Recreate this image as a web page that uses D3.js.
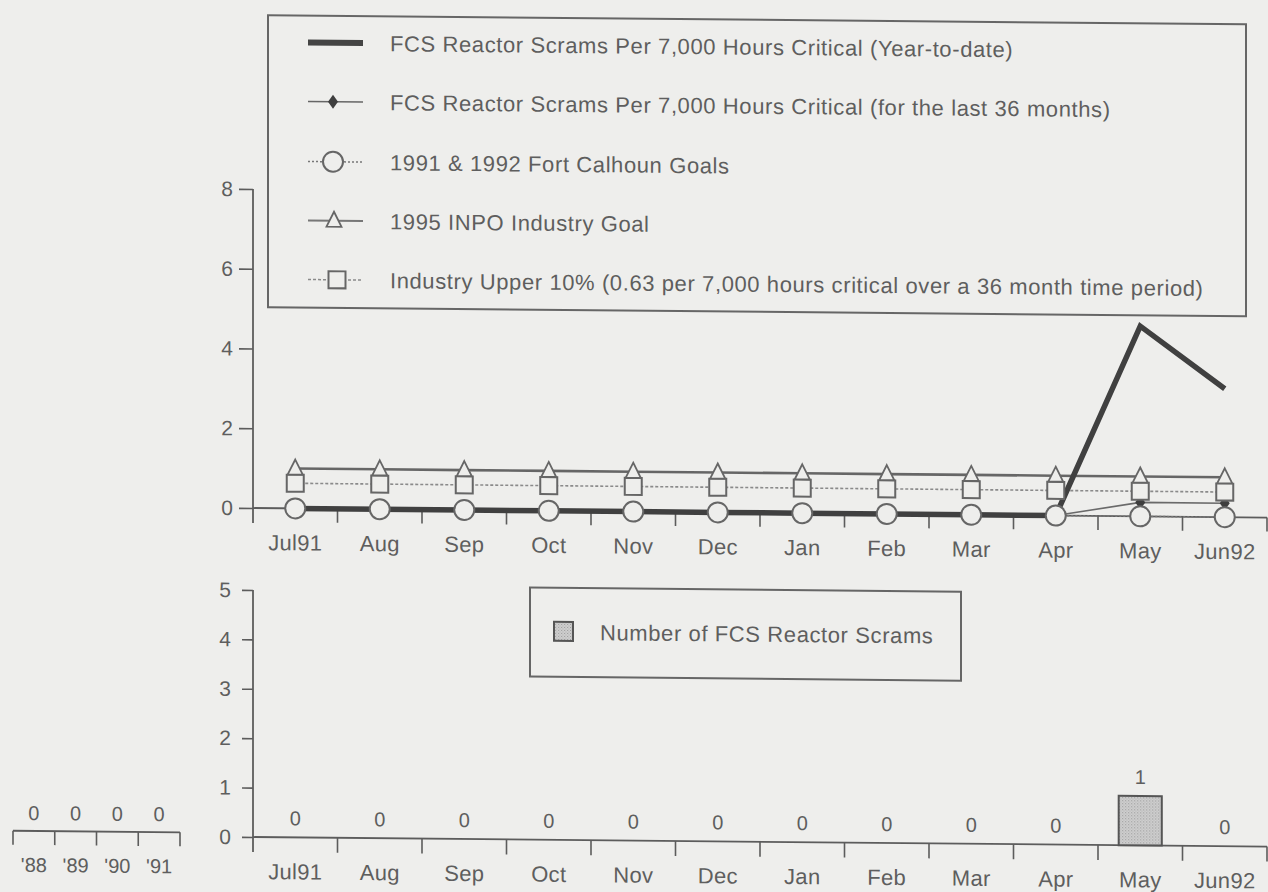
<!DOCTYPE html>
<html>
<head>
<meta charset="utf-8">
<script src="https://cdn.jsdelivr.net/npm/d3@7"></script>
<style>
  html, body { margin: 0; padding: 0; background: #eeeeec; }
  svg { display: block; }
  text { font-family: "Liberation Sans", Arial, Helvetica, sans-serif; fill: #5e5e5e; }
</style>
</head>
<body>
<svg id="chart" width="1268" height="892"></svg>
<script>
// ---------------- data ----------------
const months = ["Jul91", "Aug", "Sep", "Oct", "Nov", "Dec", "Jan", "Feb", "Mar", "Apr", "May", "Jun92"];
const ytdRate   = [0, 0, 0, 0, 0, 0, 0, 0, 0, 0, 4.77, 3.22];       // per 7,000 hrs critical, year-to-date
const rate36    = [0, 0, 0, 0, 0, 0, 0, 0, 0, 0, 0.35, 0.35];       // last 36 months
const fcsGoals  = [0, 0, 0, 0, 0, 0, 0, 0, 0, 0, 0, 0];             // 1991 & 1992 Fort Calhoun goals
const inpoGoal  = [1, 1, 1, 1, 1, 1, 1, 1, 1, 1, 1, 1];             // 1995 INPO industry goal
const upper10   = [0.63, 0.63, 0.63, 0.63, 0.63, 0.63, 0.63, 0.63, 0.63, 0.63, 0.63, 0.63];
const scrams    = [0, 0, 0, 0, 0, 0, 0, 0, 0, 0, 1, 0];             // number of FCS reactor scrams
const years     = ["'88", "'89", "'90", "'91"];
const yearScrams = [0, 0, 0, 0];
const topTicks = [0, 2, 4, 6, 8];
const bottomTicks = [0, 1, 2, 3, 4, 5];
const legendLabels = [
  "FCS Reactor Scrams Per 7,000 Hours Critical (Year-to-date)",
  "FCS Reactor Scrams Per 7,000 Hours Critical (for the last 36 months)",
  "1991 & 1992 Fort Calhoun Goals",
  "1995 INPO Industry Goal",
  "Industry Upper 10% (0.63 per 7,000 hours critical over a 36 month time period)"
];
const barLegendLabel = "Number of FCS Reactor Scrams";

// ---------------- styles ----------------
const BG = "#eeeeec";
const INK = "#606060";
const AX = "#5c5c5c";

const svg = d3.select("#chart");
svg.append("rect").attr("width", 1268).attr("height", 892).attr("fill", BG);

// the scanned page is slightly skewed
const root = svg.append("g")
  .attr("transform", "translate(253,0) skewY(0.54) translate(-253,0)");

// pattern for bar fill
const defs = svg.append("defs");
const pat = defs.append("pattern").attr("id", "dots").attr("width", 3).attr("height", 3)
  .attr("patternUnits", "userSpaceOnUse");
pat.append("rect").attr("width", 3).attr("height", 3).attr("fill", "#cfcfcf");
pat.append("rect").attr("width", 1).attr("height", 1).attr("fill", "#9a9a9a");
pat.append("rect").attr("x", 1.5).attr("y", 1.5).attr("width", 1).attr("height", 1).attr("fill", "#a8a8a8");

// ---------------- scales ----------------
const x = d3.scaleBand().domain(months).range([253, 1267]).padding(0);
const cx = m => x(m) + x.bandwidth() / 2;
const yTop = d3.scaleLinear().domain([0, 8]).range([508, 189]);
const yBot = d3.scaleLinear().domain([0, 5]).range([837, 590]);
const xYears = d3.scaleBand().domain(years).range([13, 180]).padding(0);

// ================= TOP CHART =================
const gTop = root.append("g");

// y axis
const yAxisTop = d3.axisLeft(yTop).tickValues(topTicks).tickSize(14).tickPadding(6).tickFormat(d3.format("d"));
const gyt = gTop.append("g").attr("transform", "translate(253,0)").call(yAxisTop);
gyt.select(".domain").remove();
gyt.selectAll(".tick line").attr("stroke", AX).attr("stroke-width", 1.6);
gyt.selectAll(".tick text").style("font-size", "21px").attr("fill", INK);
gTop.append("line").attr("x1", 253).attr("x2", 253).attr("y1", yTop(8)).attr("y2", yTop(0) + 15)
  .attr("stroke", AX).attr("stroke-width", 1.8);

// x axis
const xAxisTop = d3.axisBottom(x).tickSize(0).tickPadding(42);
const gxt = gTop.append("g").attr("transform", `translate(0,${yTop(0)})`).call(xAxisTop);
gxt.select(".domain").attr("stroke", AX).attr("stroke-width", 1.8).attr("d", `M253,0H${x.range()[1]}`);
gxt.selectAll(".tick text").style("font-size", "22px").style("letter-spacing", "0.3px").attr("fill", INK).attr("dy", 0);
// category boundary ticks
gTop.selectAll(".bt").data(months.slice(1).concat(["__end"])).enter().append("line")
  .attr("x1", d => d === "__end" ? x.range()[1] : x(d))
  .attr("x2", d => d === "__end" ? x.range()[1] : x(d))
  .attr("y1", yTop(0)).attr("y2", yTop(0) + 14)
  .attr("stroke", AX).attr("stroke-width", 1.6);

const lineGen = ys => d3.line().x((d, i) => cx(months[i])).y(d => ys(d));

// series lines
gTop.append("path").datum(upper10).attr("d", lineGen(yTop))
  .attr("fill", "none").attr("stroke", "#8a8a8a").attr("stroke-width", 1.6).attr("stroke-dasharray", "3,2");
gTop.append("path").datum(inpoGoal).attr("d", lineGen(yTop))
  .attr("fill", "none").attr("stroke", "#666").attr("stroke-width", 2.6);
gTop.append("path").datum(fcsGoals).attr("d", lineGen(yTop))
  .attr("fill", "none").attr("stroke", "#777").attr("stroke-width", 1.5).attr("stroke-dasharray", "2,2");
gTop.append("path").datum(rate36).attr("d", lineGen(yTop))
  .attr("fill", "none").attr("stroke", "#6a6a6a").attr("stroke-width", 1.6);
gTop.append("path").datum(ytdRate).attr("d", lineGen(yTop))
  .attr("fill", "none").attr("stroke", "#404040").attr("stroke-width", 5.5).attr("stroke-linejoin", "miter");

// markers
const diamond = (g, px, py) => g.append("path")
  .attr("d", `M${px},${py - 7}L${px + 5},${py}L${px},${py + 7}L${px - 5},${py}Z`)
  .attr("fill", "#3e3e3e");
const circleM = (g, px, py) => g.append("circle").attr("cx", px).attr("cy", py).attr("r", 10)
  .attr("fill", BG).attr("stroke", "#666").attr("stroke-width", 2);
const squareM = (g, px, py) => g.append("rect").attr("x", px - 8.5).attr("y", py - 8.5)
  .attr("width", 17).attr("height", 17)
  .attr("fill", BG).attr("stroke", "#666").attr("stroke-width", 2);
const triM = (g, px, py) => g.append("path")
  .attr("d", `M${px},${py - 9}L${px + 7.5},${py + 6}L${px - 7.5},${py + 6}Z`)
  .attr("fill", BG).attr("stroke", "#666").attr("stroke-width", 1.8);

rate36.forEach((v, i) => diamond(gTop, cx(months[i]), yTop(v)));
fcsGoals.forEach((v, i) => circleM(gTop, cx(months[i]), yTop(v)));
upper10.forEach((v, i) => squareM(gTop, cx(months[i]), yTop(v)));
inpoGoal.forEach((v, i) => triM(gTop, cx(months[i]), yTop(v)));

// legend (top)
const lg = root.append("g");
lg.append("rect").attr("x", 268).attr("y", 15).attr("width", 978).attr("height", 292)
  .attr("fill", BG).attr("stroke", "#666").attr("stroke-width", 2);
const rowY = [42, 101, 161, 220, 279];
const sx1 = 308, sx2 = 363;
// row 0
lg.append("line").attr("x1", sx1).attr("x2", sx2).attr("y1", rowY[0]).attr("y2", rowY[0])
  .attr("stroke", "#444").attr("stroke-width", 6);
// row 1
lg.append("line").attr("x1", sx1).attr("x2", sx2).attr("y1", rowY[1]).attr("y2", rowY[1])
  .attr("stroke", "#666").attr("stroke-width", 1.6);
diamond(lg, 333, rowY[1]);
// row 2
lg.append("line").attr("x1", sx1).attr("x2", sx2).attr("y1", rowY[2]).attr("y2", rowY[2])
  .attr("stroke", "#777").attr("stroke-width", 1.5).attr("stroke-dasharray", "2,2");
circleM(lg, 333, rowY[2]);
// row 3
lg.append("line").attr("x1", sx1).attr("x2", sx2).attr("y1", rowY[3]).attr("y2", rowY[3])
  .attr("stroke", "#777").attr("stroke-width", 2);
triM(lg, 334, rowY[3]);
// row 4
lg.append("line").attr("x1", sx1).attr("x2", sx2).attr("y1", rowY[4]).attr("y2", rowY[4])
  .attr("stroke", "#8a8a8a").attr("stroke-width", 1.5).attr("stroke-dasharray", "3,2");
squareM(lg, 337, rowY[4]);
lg.selectAll(".lt").data(legendLabels).enter().append("text")
  .attr("x", 390).attr("y", (d, i) => rowY[i] + 8)
  .style("font-size", "22px").style("letter-spacing", "0.6px").attr("fill", INK)
  .text(d => d);

// ================= BOTTOM CHART =================
const gBot = root.append("g");
const yAxisBot = d3.axisLeft(yBot).tickValues(bottomTicks).tickSize(11).tickPadding(11).tickFormat(d3.format("d"));
const gyb = gBot.append("g").attr("transform", "translate(253,0)").call(yAxisBot);
gyb.select(".domain").remove();
gyb.selectAll(".tick line").attr("stroke", AX).attr("stroke-width", 1.6);
gyb.selectAll(".tick text").style("font-size", "21px").attr("fill", INK);
gBot.append("line").attr("x1", 253).attr("x2", 253).attr("y1", yBot(5)).attr("y2", yBot(0) + 15)
  .attr("stroke", AX).attr("stroke-width", 1.8);

const xAxisBot = d3.axisBottom(x).tickSize(0).tickPadding(42);
const gxb = gBot.append("g").attr("transform", `translate(0,${yBot(0)})`).call(xAxisBot);
gxb.select(".domain").attr("stroke", AX).attr("stroke-width", 1.8).attr("d", `M253,0H${x.range()[1]}`);
gxb.selectAll(".tick text").style("font-size", "22px").style("letter-spacing", "0.3px").attr("fill", INK).attr("dy", 0);
gBot.selectAll(".bt").data(months.slice(1).concat(["__end"])).enter().append("line")
  .attr("x1", d => d === "__end" ? x.range()[1] : x(d))
  .attr("x2", d => d === "__end" ? x.range()[1] : x(d))
  .attr("y1", yBot(0)).attr("y2", yBot(0) + 15)
  .attr("stroke", AX).attr("stroke-width", 1.6);

// bars
const bw = x.bandwidth() * 0.51;
const barData = scrams.map((v, i) => ({ m: months[i], v }));
gBot.selectAll(".bar").data(barData.filter(d => d.v > 0)).enter()
  .append("rect")
  .attr("x", d => cx(d.m) - bw / 2).attr("width", bw)
  .attr("y", d => yBot(d.v)).attr("height", d => yBot(0) - yBot(d.v))
  .attr("fill", "url(#dots)").attr("stroke", "#555").attr("stroke-width", 2);
gBot.selectAll(".vl").data(barData).enter().append("text")
  .attr("x", d => cx(d.m)).attr("y", d => yBot(d.v) - 12)
  .attr("text-anchor", "middle").style("font-size", "20px").attr("fill", INK)
  .text(d => d.v);

// bottom legend
const bl = root.append("g");
bl.append("rect").attr("x", 530).attr("y", 585).attr("width", 431).attr("height", 89)
  .attr("fill", BG).attr("stroke", "#666").attr("stroke-width", 2);
bl.append("rect").attr("x", 554).attr("y", 619).attr("width", 19).attr("height", 19)
  .attr("fill", "url(#dots)").attr("stroke", "#555").attr("stroke-width", 2);
bl.append("text").attr("x", 600).attr("y", 637).style("font-size", "22px")
  .style("letter-spacing", "0.6px").attr("fill", INK).text(barLegendLabel);

// ================= LEFT SMALL (yearly) AXIS =================
const ya = root.append("g");
const yBase = 833;
ya.append("line").attr("x1", xYears.range()[0]).attr("x2", xYears.range()[1])
  .attr("y1", yBase).attr("y2", yBase).attr("stroke", AX).attr("stroke-width", 1.8);
const yb = years.map(y => xYears(y)).concat([xYears.range()[1]]);
ya.selectAll(".yt").data(yb).enter().append("line")
  .attr("x1", d => d).attr("x2", d => d).attr("y1", yBase).attr("y2", yBase + 14)
  .attr("stroke", AX).attr("stroke-width", 1.6);
ya.selectAll(".yl").data(years).enter().append("text")
  .attr("x", d => xYears(d) + xYears.bandwidth() / 2).attr("y", 874)
  .attr("text-anchor", "middle").style("font-size", "20px").attr("fill", INK).text(d => d);
ya.selectAll(".yv").data(yearScrams).enter().append("text")
  .attr("x", (d, i) => xYears(years[i]) + xYears.bandwidth() / 2).attr("y", 822)
  .attr("text-anchor", "middle").style("font-size", "20px").attr("fill", INK).text(d => d);
</script>
</body>
</html>
